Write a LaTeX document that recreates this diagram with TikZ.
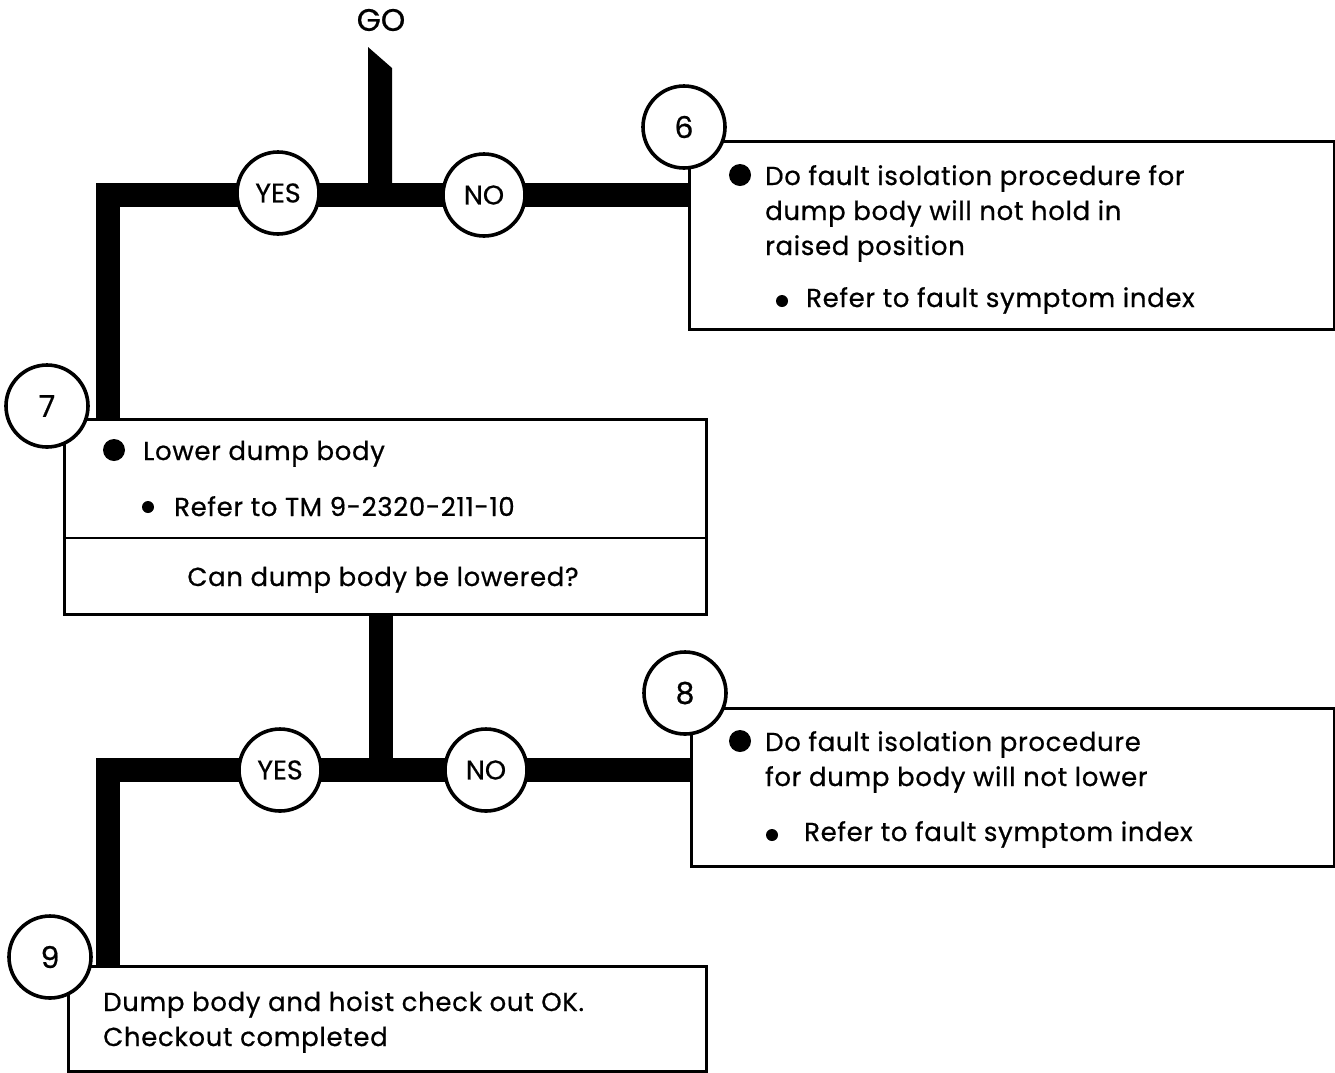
\documentclass[tikz,border=0pt]{standalone}
\usepackage{fontspec}
\setmainfont{Poppins}[FakeBold=0.6]
\newfontfamily\boxfont[LetterSpace=2.5,FakeBold=0.6]{Poppins}
\begin{document}
\begin{tikzpicture}[x=1pt,y=-1pt,
  boxshape/.style={draw, line width=2.6pt, anchor=north west, inner sep=0pt, fill=white},
  circ/.style={draw, circle, line width=3.6pt, fill=white, minimum size=82pt, inner sep=0pt, font=\fontsize{27}{30}\selectfont},
  numcirc/.style={circ, font=\fontsize{30}{32}\selectfont},
  bar/.style={line width=24pt, line join=miter, line cap=butt},
  txt/.style={anchor=base west, inner sep=0pt, font=\boxfont\fontsize{26}{30}\selectfont},
  bigdot/.style={radius=11pt},
  smalldot/.style={radius=6pt}]
\useasboundingbox (0,0) rectangle (1335,1072);

% boxes
\node[boxshape, minimum width=645pt, minimum height=188pt] (b6) at (688,140) {};
\node[boxshape, minimum width=642pt, minimum height=195pt] (b7) at (63,418) {};
\node[boxshape, minimum width=643pt, minimum height=158pt] (b8) at (690,707) {};
\node[boxshape, minimum width=638pt, minimum height=105pt] (b9) at (67,965) {};
\draw[line width=2.6pt] (b7.west |- 0,538) -- (b7.east |- 0,538);

% GO
\node[font=\fontsize{31}{34}\selectfont] (go) at (381,20) {GO};
\fill (368,47) -- (392,68) -- (392,195) -- (368,195) -- cycle;

% bars
\coordinate (j1) at (381,195);
\coordinate (j2) at (381,770);
\draw[bar] (b6.west |- j1) -- (108,195) -- (108,418);
\draw[bar] (b7.south -| j2) -- (j2);
\draw[bar] (b8.west |- j2) -- (108,770) -- (108,965);

% circles
\node[circ] (y1) at (278,193) {YES};
\node[circ] (n1) at (484,195) {NO};
\node[circ] (y2) at (280,770) {YES};
\node[circ] (n2) at (486,770) {NO};
\node[numcirc] (c6) at (684,127) {6};
\node[numcirc] (c7) at (47,406) {7};
\node[numcirc] (c8) at (685,693) {8};
\node[numcirc] (c9) at (50,957) {9};

% box 6 text
\fill[bigdot] (740,175) circle;
\node[txt] (t6a) at (765,185) {Do fault isolation procedure for};
\node[txt] (t6b) at (765,220) {dump body will not hold in};
\node[txt] (t6c) at (765,255) {raised position};
\fill[smalldot] (782,301) circle;
\node[txt] (t6d) at (806,307) {Refer to fault symptom index};

% box 7 text
\fill[bigdot] (114,450) circle;
\node[txt] (t7a) at (143,460) {Lower dump body};
\fill[smalldot] (148,507) circle;
\node[txt] (t7b) at (174,516) {Refer to TM 9-2320-211-10};
\node[anchor=base, inner sep=0pt, font=\boxfont\fontsize{26}{30}\selectfont] (t7c) at (383,586) {Can dump body be lowered?};

% box 8 text
\fill[bigdot] (740,741) circle;
\node[txt] (t8a) at (765,751) {Do fault isolation procedure};
\node[txt] (t8b) at (765,786) {for dump body will not lower};
\fill[smalldot] (772,835) circle;
\node[txt] (t8c) at (804,841) {Refer to fault symptom index};

% box 9 text
\node[txt] (t9a) at (103,1011) {Dump body and hoist check out OK.};
\node[txt] (t9b) at (103,1046) {Checkout completed};
\end{tikzpicture}
\end{document}
